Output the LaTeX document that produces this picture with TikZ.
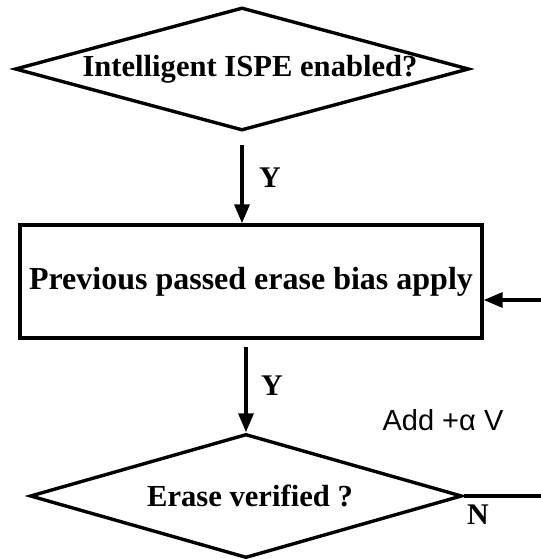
\documentclass[tikz,border=0pt]{standalone}
\usepackage{fontspec}
\setmainfont{Liberation Serif}
\newfontfamily\addfont{Liberation Sans}
\usepackage{tikz}
\usetikzlibrary{positioning, shapes.geometric, arrows.meta}

\begin{document}
\begin{tikzpicture}[x=1pt, y=1pt, line width=1.7pt,
    decision/.style={draw, diamond, inner sep=0pt, font=\fontsize{15.3}{18}\bfseries},
    process/.style={draw, rectangle, minimum width=231pt, minimum height=56.5pt, font=\fontsize{16}{19}\bfseries},
    flow/.style={-{Triangle[length=9.5pt, width=7.5pt]}},
    yn/.style={font=\fontsize{15}{18}\bfseries}]
        \useasboundingbox (0,0) rectangle (270.5,279.5);
        \node[decision, minimum width=227pt, minimum height=61.5pt] (ispe) at (121,245)
            {\makebox[0pt]{\hspace*{8pt}Intelligent ISPE enabled?}};
        \node[process] (bias) at (125.5,138.75) {Previous passed erase bias apply};
        \node[decision, minimum width=216pt, minimum height=62pt] (verify) at (123,31.5)
            {\makebox[0pt]{\hspace*{4pt}Erase verified ?}};
        \coordinate (back) at (270.5,129.5);
        \coordinate (loop) at (270.5,31.5);
        % Now the arrows between the boxes
        \draw[flow] ([yshift=-6.5pt]ispe.south) -- (ispe.south |- bias.north);
        \draw[flow] ([yshift=-3.5pt]bias.south -| verify.north) -- (verify.north);
        \draw (verify.east) -- (loop);
        \draw[flow] (back) -- (back -| bias.east);
        % labels
        \node[yn] (y1) at (135,190.5) {Y};
        \node[yn] (y2) at (136,86.5) {Y};
        \node[yn] (n1) at (239,22) {N};
        \node[font=\fontsize{14.5}{17}\addfont] (add) at (221.5,69.5) {Add +α V};
    \end{tikzpicture}
\end{document}
